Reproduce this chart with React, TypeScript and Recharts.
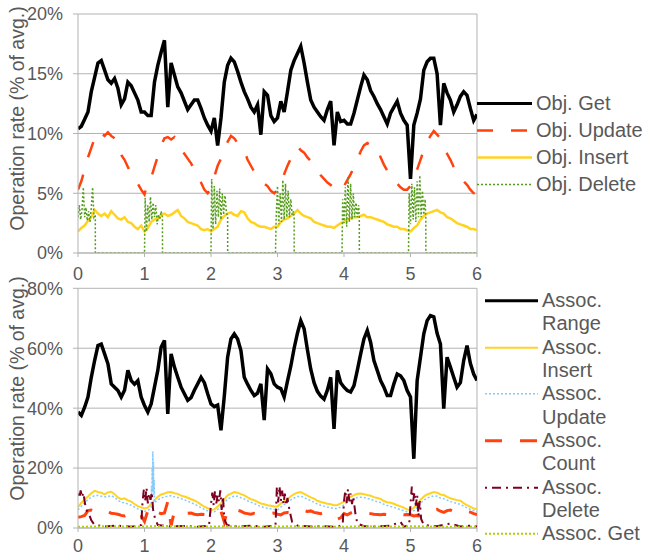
import React from "react";
import { LineChart, Line, XAxis, YAxis, CartesianGrid, Legend, ReferenceLine } from "recharts";

// samples are 0.05 apart on the x axis (0 .. 6)
const gridTimes = Array.from({ length: 121 }, (_, i) => Number((i * 0.05).toFixed(2)));

const objGet = [
  10.4, 10.6, 11.2, 11.8, 13.5, 14.7, 15.9, 16.1, 15.3, 14.5,
  14.2, 14.6, 13.8, 12.4, 12.9, 14.3, 14.0, 13.4, 12.8, 11.8,
  11.8, 11.5, 11.5, 14.3, 15.7, 16.8, 17.8, 12.2, 15.9, 14.9,
  13.9, 13.4, 12.7, 12.0, 12.4, 12.8, 12.8, 12.1, 11.3, 10.7,
  10.2, 11.3, 9.0, 11.3, 14.3, 15.7, 16.3, 16.0, 15.2, 14.3,
  13.5, 12.9, 12.2, 11.8, 12.4, 9.9, 13.5, 13.2, 11.5, 11.0,
  11.3, 12.7, 11.8, 13.5, 15.3, 16.1, 16.7, 17.3, 15.9, 14.3,
  12.8, 12.2, 11.8, 11.4, 11.1, 12.0, 12.7, 9.0, 11.8, 11.0,
  11.1, 10.8, 10.8, 11.7, 12.8, 13.9, 14.9, 14.5, 13.6, 13.1,
  12.5, 12.0, 11.4, 10.8, 11.7, 12.2, 12.7, 11.7, 11.1, 10.7,
  6.2, 10.7, 11.7, 12.9, 15.3, 16.0, 16.3, 16.3, 15.0, 10.7,
  14.2, 13.4, 12.8, 11.8, 12.4, 13.1, 13.5, 13.2, 12.1, 11.1,
  11.6,
];

const objUpdate = [
  5.3, 6.0, 7.0, 8.0, 8.8, 9.6, 10.2, 10.0, 9.8, 10.1,
  9.8, 9.6, 9.0, 8.2, 7.8, 7.2, 6.6, 6.2, 5.8, 5.3,
  4.9, 6.0, 6.3, 7.2, 8.1, 9.0, 9.6, 9.7, 9.5, 9.7,
  9.0, 8.6, 8.3, 7.9, 7.5, 7.0, 6.4, 5.9, 5.3, 5.0,
  5.4, 6.4, 7.3, 7.9, 8.6, 9.3, 9.8, 9.6, 9.2, 9.0,
  8.6, 7.8, 7.3, 6.8, 6.5, 6.1, 5.8, 5.6, 5.2, 5.0,
  5.3, 5.8, 6.6, 7.3, 7.9, 8.5, 8.9, 8.6, 8.4, 8.0,
  7.7, 7.4, 6.9, 6.5, 6.2, 5.9, 5.7, 5.4, 5.2, 5.2,
  5.6, 6.1, 6.6, 7.2, 7.8, 8.5, 9.0, 9.2, 9.0, 8.8,
  8.8, 8.0, 7.4, 6.9, 6.4, 6.2, 5.8, 5.5, 5.3, 5.3,
  5.6, 6.3, 7.0, 7.8, 8.6, 9.3, 9.8, 10.2, 9.9, 9.6,
  9.0, 8.3, 7.8, 7.2, 6.8, 6.5, 6.0, 5.7, 5.3, 5.0,
  4.9,
];

const objInsert = [
  1.8, 2.1, 2.3, 2.7, 3.0, 3.6, 3.3, 3.1, 3.3, 3.0,
  3.5, 3.2, 2.9, 2.8, 3.0, 2.6, 2.5, 2.2, 2.0, 2.3,
  1.8, 2.1, 2.6, 2.8, 2.9, 3.2, 3.3, 3.1, 3.2, 3.4,
  3.6, 3.1, 2.9, 2.6, 2.5, 2.4, 2.3, 2.0, 1.9, 2.0,
  1.8, 2.0, 2.2, 2.8, 3.1, 3.3, 3.4, 3.2, 3.1, 3.5,
  3.4, 2.9, 2.6, 2.5, 2.3, 2.2, 2.2, 2.1, 2.0, 2.2,
  2.2, 2.6, 2.8, 2.9, 3.1, 3.3, 3.6, 3.3, 3.1, 3.0,
  2.9, 2.6, 2.5, 2.4, 2.3, 2.2, 2.2, 2.1, 2.3, 2.5,
  2.6, 2.8, 2.9, 3.0, 3.0, 3.1, 3.2, 3.0, 3.0, 2.9,
  2.8, 2.7, 2.6, 2.4, 2.3, 2.2, 2.2, 2.0, 2.0, 1.9,
  1.8, 2.1, 2.3, 2.8, 3.1, 3.3, 3.4, 3.5, 3.6, 3.4,
  3.3, 3.0, 2.9, 2.7, 2.5, 2.4, 2.3, 2.2, 2.0, 2.0,
  1.9,
];

// deletes only happen in short bursts
const objDeleteTimes = [
  0, 0.02, 0.04, 0.06, 0.08, 0.1, 0.12, 0.14, 0.16, 0.18, 0.2, 0.22, 0.24, 0.26, 0.261,
  0.999, 1.0, 1.01, 1.03, 1.05, 1.07, 1.09, 1.11, 1.13, 1.15, 1.17, 1.19, 1.21, 1.23, 1.25, 1.27, 1.271,
  1.999, 2.0, 2.01, 2.03, 2.05, 2.07, 2.09, 2.11, 2.13, 2.15, 2.17, 2.19, 2.21, 2.23, 2.25, 2.251,
  2.969, 2.97, 2.98, 3.0, 3.02, 3.04, 3.06, 3.08, 3.1, 3.12, 3.14, 3.16, 3.18, 3.2, 3.22, 3.24, 3.25, 3.251,
  3.969, 3.97, 3.98, 4.0, 4.02, 4.04, 4.06, 4.08, 4.1, 4.12, 4.14, 4.16, 4.18, 4.2, 4.22, 4.23, 4.231,
  4.969, 4.97, 4.98, 5.0, 5.02, 5.04, 5.06, 5.08, 5.1, 5.12, 5.14, 5.16, 5.18, 5.2, 5.22, 5.23, 5.231,
  6.0,
];
const objDeleteValues = [
  3.0, 4.0, 2.8, 3.6, 5.5, 3.0, 3.8, 2.7, 3.5, 2.6, 3.8, 5.5, 3.0, 3.2, 0,
  0, 0, 4.6, 1.8, 4.0, 2.6, 4.7, 2.8, 4.2, 3.0, 4.0, 2.4, 3.2, 2.8, 3.5, 3.0, 0,
  0, 0, 6.2, 2.0, 5.6, 2.4, 5.2, 3.0, 5.4, 2.8, 5.0, 3.2, 4.8, 3.5, 3.0, 0,
  0, 0, 3.0, 5.6, 2.4, 5.0, 2.6, 6.1, 2.8, 5.8, 3.0, 5.2, 3.0, 4.5, 3.2, 3.5, 3.0, 0,
  0, 0, 4.5, 2.5, 5.5, 2.2, 6.4, 2.6, 5.8, 2.8, 5.0, 3.0, 4.2, 3.0, 4.0, 3.0, 0,
  0, 0, 5.0, 2.4, 5.8, 2.8, 5.5, 2.6, 6.0, 3.0, 6.5, 3.0, 5.2, 3.2, 4.5, 3.0, 0,
  0,
];

const assocRange = [
  38.7, 37.6, 40.3, 43.7, 50.3, 55.9, 60.9, 61.4, 58.1, 54.8,
  48.1, 47.0, 45.9, 43.7, 46.0, 52.6, 49.2, 48.0, 49.2, 43.7,
  40.9, 38.7, 41.4, 47.0, 52.6, 60.3, 62.6, 38.1, 58.1, 53.7,
  50.3, 47.0, 44.8, 42.6, 43.5, 46.0, 48.1, 50.3, 48.5, 44.8,
  41.4, 40.5, 41.0, 32.6, 44.0, 57.0, 63.1, 64.8, 63.1, 59.2,
  50.3, 48.0, 45.9, 44.2, 45.0, 48.1, 36.0, 53.1, 51.5, 48.1,
  47.0, 46.5, 43.7, 49.0, 54.0, 60.0, 65.0, 69.2, 66.5, 59.5,
  53.0, 48.5, 45.6, 44.0, 43.0, 46.0, 50.3, 33.1, 52.6, 48.5,
  47.0, 45.9, 45.4, 47.5, 52.6, 58.0, 63.1, 65.9, 62.0, 55.9,
  52.6, 49.2, 47.0, 44.2, 44.2, 48.1, 51.4, 50.8, 49.2, 45.9,
  43.7, 23.1, 49.2, 57.0, 64.8, 69.2, 70.9, 70.5, 65.0, 61.4,
  39.8, 57.0, 53.7, 50.3, 47.0, 48.5, 55.9, 60.9, 55.0, 51.4,
  49.2,
];

const assocInsert = [
  7.0, 8.4, 9.6, 10.5, 11.6, 12.4, 12.0, 11.8, 11.2, 11.9,
  12.1, 11.3, 10.2, 9.6, 9.9, 9.2, 8.8, 8.0, 7.3, 6.9,
  6.5, 6.8, 8.0, 9.3, 10.4, 11.2, 11.5, 11.9, 12.0, 11.6,
  11.4, 10.8, 10.5, 10.1, 9.6, 9.2, 8.6, 7.8, 7.1, 6.6,
  6.0, 6.2, 7.2, 8.2, 9.6, 10.9, 11.5, 12.0, 11.8, 11.3,
  10.9, 10.2, 9.6, 9.3, 8.7, 8.2, 7.9, 7.6, 7.4, 7.2,
  7.2, 8.2, 9.0, 9.6, 10.6, 11.3, 11.8, 12.0, 11.4, 10.8,
  10.2, 9.8, 9.1, 8.7, 8.4, 8.1, 7.9, 7.6, 7.7, 8.2,
  8.8, 9.7, 10.4, 11.0, 11.4, 11.5, 11.3, 11.0, 10.8, 10.3,
  10.0, 9.7, 9.0, 8.6, 8.4, 8.1, 7.6, 7.2, 6.8, 6.2,
  5.9, 6.8, 7.8, 9.4, 10.5, 11.2, 11.6, 12.0, 11.8, 11.2,
  11.0, 10.4, 9.9, 9.6, 9.3, 9.1, 8.3, 7.6, 7.1, 6.5,
  6.3,
];

const assocUpdate = [
  6.0, 7.2, 8.5, 9.5, 10.3, 10.8, 10.9, 10.6, 10.4, 10.5,
  10.8, 10.2, 9.3, 8.6, 8.4, 8.0, 7.6, 7.0, 6.4, 5.9,
  5.6, 5.8, 6.8, 8.4, 9.4, 10.0, 10.4, 10.6, 10.8, 10.4,
  10.2, 9.8, 9.4, 9.0, 8.4, 8.0, 7.4, 6.8, 6.2, 5.7,
  5.3, 5.4, 6.2, 7.2, 8.5, 9.6, 10.3, 10.6, 10.6, 10.1,
  9.7, 9.1, 8.6, 8.2, 7.6, 7.2, 6.8, 6.6, 6.4, 6.2,
  6.0, 7.0, 7.8, 8.6, 9.4, 10.0, 10.5, 10.6, 10.2, 9.6,
  9.1, 8.6, 8.0, 7.6, 7.3, 7.0, 6.8, 6.5, 6.5, 7.0,
  7.7, 8.5, 9.2, 9.8, 10.2, 10.3, 10.2, 9.9, 9.6, 9.2,
  8.8, 8.5, 7.9, 7.5, 7.2, 6.9, 6.5, 6.1, 5.8, 5.4,
  5.2, 5.8, 6.8, 8.2, 9.3, 10.0, 10.4, 10.7, 10.6, 10.0,
  9.8, 9.3, 8.8, 8.5, 8.2, 7.9, 7.3, 6.7, 6.2, 5.8,
  5.6,
];
// short burst of assoc updates just after t = 1.1
const assocUpdateSpikeTimes = [1.105, 1.11, 1.115, 1.12, 1.125, 1.13, 1.135, 1.14, 1.145];
const assocUpdateSpikeValues = [14.0, 10.0, 20.0, 12.0, 25.5, 13.0, 22.0, 11.0, 16.0];

const assocCount = [
  3.6, 3.8, 4.2, 5.8, 6.0, 5.6, 6.1, 5.8, 6.0, 5.5,
  4.9, 4.8, 4.6, 4.2, 4.0, 4.5, 5.4, 5.6, 5.2, 4.2,
  2.2, 5.8, 6.0, 4.0, 5.2, 4.8, 5.0, 8.8, 0.8, 5.6,
  5.4, 5.2, 5.0, 4.9, 5.0, 4.6, 4.4, 4.6, 4.5, 4.4,
  4.2, 4.6, 5.2, 5.6, 2.0, 6.2, 5.8, 6.0, 5.9, 5.6,
  5.0, 4.8, 4.6, 4.9, 4.7, 5.0, 5.1, 5.0, 4.8, 5.0,
  4.6, 4.4, 5.0, 5.2, 5.0, 5.4, 5.0, 5.6, 5.8, 5.5,
  5.7, 5.2, 5.0, 4.8, 5.1, 5.0, 4.2, 3.2, 3.0, 3.4,
  4.8, 4.4, 5.0, 5.3, 5.6, 5.2, 5.4, 5.0, 4.8, 4.6,
  4.5, 4.4, 4.6, 4.5, 4.3, 4.8, 5.0, 4.6, 4.4, 4.5,
  4.4, 4.0, 4.2, 3.8, 4.6, 5.0, 5.4, 6.0, 6.2, 5.6,
  5.2, 5.8, 6.0, 5.4, 5.0, 4.8, 5.2, 5.5, 5.3, 4.8,
  4.5,
];

const assocDeleteTimes = [
  0, 0.02, 0.04, 0.06, 0.08, 0.1, 0.12, 0.15, 0.2, 0.25, 0.4, 0.6, 0.8, 0.95,
  0.97, 0.99, 1.01, 1.03, 1.05, 1.07, 1.09, 1.11, 1.13, 1.16, 1.2, 1.4, 1.6, 1.8, 1.97,
  2.0, 2.02, 2.04, 2.06, 2.08, 2.1, 2.12, 2.14, 2.16, 2.18, 2.2, 2.24, 2.4, 2.6, 2.8, 2.97,
  2.99, 3.01, 3.03, 3.05, 3.07, 3.09, 3.11, 3.13, 3.15, 3.18, 3.22, 3.3, 3.5, 3.7, 3.9, 3.98,
  4.0, 4.02, 4.04, 4.06, 4.08, 4.1, 4.12, 4.14, 4.17, 4.2, 4.3, 4.5, 4.7, 4.85, 4.9, 4.98,
  5.0, 5.02, 5.04, 5.06, 5.08, 5.1, 5.12, 5.14, 5.16, 5.2, 5.4, 5.6, 5.75, 5.9, 6.0,
];
const assocDeleteValues = [
  11.5, 10.0, 12.5, 10.2, 11.8, 9.0, 6.0, 5.4, 2.6, 1.0, 0.5, 0.8, 0.4, 1.0,
  8.5, 12.8, 9.0, 13.5, 8.2, 11.5, 9.4, 12.0, 6.0, 3.0, 1.0, 0.5, 0.7, 0.4, 0.8,
  8.0, 11.8, 7.6, 12.4, 8.2, 11.0, 8.8, 12.6, 6.0, 10.5, 3.0, 1.0, 0.5, 0.8, 0.4, 0.8,
  13.5, 8.5, 14.0, 9.0, 12.5, 8.0, 11.5, 7.5, 10.0, 6.0, 2.0, 0.8, 0.5, 0.6, 0.4, 1.0,
  9.0, 12.5, 8.4, 13.0, 9.0, 11.5, 8.0, 10.5, 5.0, 1.5, 0.6, 0.5, 0.8, 2.0, 0.4, 1.0,
  8.0, 13.8, 9.0, 12.0, 7.5, 11.0, 4.0, 9.0, 3.0, 1.0, 0.6, 1.5, 0.5, 0.8, 0.5,
];

// assoc get is sampled more coarsely (every 0.25)
const assocGetTimes = Array.from({ length: 25 }, (_, i) => i * 0.25);
const assocGetValues = [
  0.4, 0.5, 0.6, 0.5, 0.5, 0.7, 0.6, 0.4, 0.5, 0.6, 0.5, 0.4, 0.5,
  0.6, 0.5, 0.5, 0.4, 0.6, 0.5, 0.5, 0.6, 0.5, 0.4, 0.5, 0.5,
];

const xTicks = [0, 1, 2, 3, 4, 5, 6];
const objTicks = [0, 5, 10, 15, 20];
const assocTicks = [0, 20, 40, 60, 80];

const toRows = (times: number[], values: number[]) =>
  times.map((t, i) => ({ t, v: values[i] }));

const withSpike = (times: number[], values: number[], sTimes: number[], sValues: number[]) =>
  [...toRows(times, values), ...toRows(sTimes, sValues)].sort((a, b) => a.t - b.t);

type Series = {
  name: string;
  rows: { t: number; v: number }[];
  color: string;
  width: number;
  dash?: string;
};

const objSeries: Series[] = [
  { name: "Obj. Get", rows: toRows(gridTimes, objGet), color: "#000000", width: 3.5 },
  { name: "Obj. Update", rows: toRows(gridTimes, objUpdate), color: "#ff420e", width: 2.5, dash: "16 18" },
  { name: "Obj. Insert", rows: toRows(gridTimes, objInsert), color: "#ffd320", width: 2.5 },
  { name: "Obj. Delete", rows: toRows(objDeleteTimes, objDeleteValues), color: "#579d1c", width: 1.5, dash: "2 2" },
];

const assocSeries: Series[] = [
  { name: "Assoc. Range", rows: toRows(gridTimes, assocRange), color: "#000000", width: 3.5 },
  { name: "Assoc. Insert", rows: toRows(gridTimes, assocInsert), color: "#ffd320", width: 2 },
  {
    name: "Assoc. Update",
    rows: withSpike(gridTimes, assocUpdate, assocUpdateSpikeTimes, assocUpdateSpikeValues),
    color: "#83caff",
    width: 1.5,
    dash: "2 2",
  },
  { name: "Assoc. Count", rows: toRows(gridTimes, assocCount), color: "#ff420e", width: 3, dash: "17 18" },
  { name: "Assoc. Delete", rows: toRows(assocDeleteTimes, assocDeleteValues), color: "#7e0021", width: 2, dash: "2 5 9 5" },
  { name: "Assoc. Get", rows: toRows(assocGetTimes, assocGetValues), color: "#aecf00", width: 2, dash: "2 2" },
];

const GREY = "#b3b3b3";
const TEXT = "#595959";
const PLOT_RIGHT = 477;

const AxisTitle = ({ cy }: { cy: number }) => (
  <text
    x={17}
    y={cy}
    transform={`rotate(-90, 17, ${cy})`}
    textAnchor="middle"
    dominantBaseline="central"
    fill={TEXT}
    fontSize={19.5}
  >
    Operation rate (% of avg.)
  </text>
);

function LegendList({ items, rowHeight, lineWidth, textWidth }: {
  items: Series[];
  rowHeight: number;
  lineWidth: number;
  textWidth: number;
}) {
  return (
    <div>
      {items.map((s) => (
        <div key={s.name} style={{ display: "flex", alignItems: "flex-start" }}>
          <svg width={lineWidth} height={rowHeight} style={{ flex: "none" }}>
            <line
              x1={0}
              x2={lineWidth}
              y1={rowHeight / 2}
              y2={rowHeight / 2}
              stroke={s.color}
              strokeWidth={Math.min(s.width, 3)}
              strokeDasharray={s.dash}
            />
          </svg>
          <span
            style={{
              marginLeft: 4,
              width: textWidth,
              fontSize: 20,
              lineHeight: `${rowHeight}px`,
              color: TEXT,
            }}
          >
            {s.name}
          </span>
        </div>
      ))}
    </div>
  );
}

function Panel({ series, max, ticks, height, top, axisHeight, tickMargin, titleY, legendTop, legendLeft, legend }: {
  series: Series[];
  max: number;
  ticks: number[];
  height: number;
  top: number;
  axisHeight: number;
  tickMargin: number;
  titleY: number;
  legendTop: number;
  legendLeft: number;
  legend: React.ReactNode;
}) {
  const legendWidth = 647 - legendLeft;
  // the legend's width is added to the right offset, so only the remainder goes into the margin
  const rightMargin = 647 - PLOT_RIGHT - legendWidth;
  return (
    <LineChart width={647} height={height} margin={{ top, right: rightMargin, bottom: 0, left: 0 }}>
      <CartesianGrid vertical={false} stroke={GREY} />
      <XAxis
        type="number"
        dataKey="t"
        domain={[0, 6]}
        ticks={xTicks}
        height={axisHeight}
        stroke={GREY}
        tickSize={4}
        tickMargin={tickMargin}
        tick={{ fill: TEXT, fontSize: 18 }}
        allowDataOverflow
      />
      <YAxis
        domain={[0, max]}
        ticks={ticks}
        width={78}
        stroke={GREY}
        tickSize={5}
        tickMargin={10}
        tick={{ fill: TEXT, fontSize: 18 }}
        tickFormatter={(v) => `${v}%`}
        allowDataOverflow
        label={<AxisTitle cy={titleY} />}
      />
      <ReferenceLine x={6} stroke={GREY} />
      {series.map((s) => (
        <Line
          key={s.name}
          data={s.rows}
          dataKey="v"
          name={s.name}
          type="linear"
          stroke={s.color}
          strokeWidth={s.width}
          strokeDasharray={s.dash}
          dot={false}
          activeDot={false}
          isAnimationActive={false}
        />
      ))}
      <Legend
        layout="horizontal"
        verticalAlign="middle"
        align="right"
        wrapperStyle={{ left: legendLeft, top: legendTop, width: legendWidth }}
        content={() => legend}
      />
    </LineChart>
  );
}

export default function App() {
  return (
    <div
      style={{
        position: "absolute",
        left: 0,
        top: 0,
        width: 647,
        height: 556,
        overflow: "hidden",
        background: "#ffffff",
        fontFamily: '"Liberation Sans", Arial, sans-serif',
      }}
    >
      <div style={{ position: "absolute", left: 0, top: 0 }}>
        <Panel
          series={objSeries}
          max={20}
          ticks={objTicks}
          height={285}
          top={14}
          axisHeight={32}
          tickMargin={10}
          titleY={118.5}
          legendTop={89.7}
          legendLeft={477}
          legend={<LegendList items={objSeries} rowHeight={27.2} lineWidth={55} textWidth={120} />}
        />
      </div>
      <div style={{ position: "absolute", left: 0, top: 265 }}>
        <Panel
          series={assocSeries}
          max={80}
          ticks={assocTicks}
          height={291}
          top={23.3}
          axisHeight={28}
          tickMargin={7}
          titleY={123.5}
          legendTop={24}
          legendLeft={485}
          legend={<LegendList items={assocSeries} rowHeight={23.35} lineWidth={53} textWidth={104} />}
        />
      </div>
    </div>
  );
}
